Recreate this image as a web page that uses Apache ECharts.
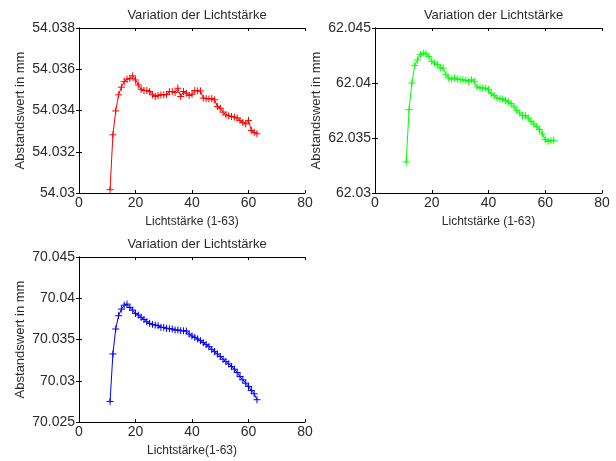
<!DOCTYPE html>
<html>
<head>
<meta charset="utf-8">
<script src="https://cdn.jsdelivr.net/npm/echarts@6/dist/echarts.min.js"></script>
<style>
  html, body { margin: 0; padding: 0; background: #fff; }
  #chart { width: 616px; height: 461px; }
</style>
</head>
<body>
<div id="chart"></div>
<script>
// Lichtstärke steps
const lichtstaerke = [11, 12, 13, 14, 15, 16, 17, 18, 19, 20, 21, 22, 23, 24, 25, 26, 27, 28, 29, 30,
  31, 32, 33, 34, 35, 36, 37, 38, 39, 40, 41, 42, 43, 44, 45, 46, 47, 48, 49, 50,
  51, 52, 53, 54, 55, 56, 57, 58, 59, 60, 61, 62, 63]

const abstandRot = [54.03016, 54.03282, 54.03398, 54.03476, 54.03513, 54.0354, 54.03552, 54.03555, 54.03568, 54.03548,
  54.03524, 54.03503, 54.03497, 54.03497, 54.03492, 54.03476, 54.03468, 54.03473, 54.03476, 54.03476,
  54.03477, 54.03492, 54.03492, 54.03487, 54.03508, 54.03468, 54.03492, 54.03484, 54.03473, 54.03479,
  54.03497, 54.03495, 54.03495, 54.0346, 54.03458, 54.03456, 54.03458, 54.03452, 54.03419, 54.03411,
  54.03392, 54.03379, 54.03374, 54.03371, 54.03368, 54.03363, 54.03352, 54.03342, 54.03335, 54.03352,
  54.03303, 54.03294, 54.03287]

const abstandGruen = [62.03282, 62.03758, 62.04, 62.0416, 62.0421, 62.04258, 62.04273, 62.04264, 62.04242, 62.04197,
  62.04182, 62.04167, 62.04136, 62.04136, 62.04076, 62.04045, 62.04036, 62.04045, 62.04036, 62.0403,
  62.0403, 62.04024, 62.04015, 62.0403, 62.04015, 62.03964, 62.03955, 62.03955, 62.03952, 62.03939,
  62.03903, 62.03885, 62.03864, 62.03858, 62.03855, 62.03842, 62.03827, 62.03812, 62.03782, 62.03752,
  62.03727, 62.03703, 62.03703, 62.03682, 62.03652, 62.03627, 62.03606, 62.03576, 62.03536, 62.03485,
  62.0347, 62.03476, 62.03479]

const abstandBlau = [70.02749, 70.03325, 70.03627, 70.03788, 70.03868, 70.03916, 70.03929, 70.03888, 70.03856, 70.03816,
  70.03796, 70.03768, 70.03743, 70.03715, 70.03695, 70.03683, 70.03675, 70.03667, 70.03647, 70.03647,
  70.03635, 70.03631, 70.03627, 70.03615, 70.03615, 70.03607, 70.03605, 70.03603, 70.03566, 70.03542,
  70.03526, 70.03506, 70.03486, 70.03462, 70.03438, 70.03413, 70.03381, 70.03353, 70.03325, 70.03293,
  70.03261, 70.03232, 70.03204, 70.03172, 70.0314, 70.031, 70.03051, 70.03011, 70.02971, 70.02931,
  70.02882, 70.02842, 70.0277]

// axis ranges: [min, max, interval]
const xRange = [0, 80, 20]
const yRanges = [
  [54.03, 54.038, 0.002],
  [62.03, 62.045, 0.005],
  [70.025, 70.045, 0.005],
]
const titles = ['Variation der Lichtstärke', 'Variation der Lichtstärke', 'Variation der Lichtstärke']
const xNames = ['Lichtstärke (1-63)', 'Lichtstärke (1-63)', 'Lichtstärke(1-63)']
const yName = 'Abstandswert in mm'
const colors = ['#ff0000', '#00ff00', '#0000ff']
const seriesData = [abstandRot, abstandGruen, abstandBlau]

const grids = [
  { left: 79, top: 28, width: 226, height: 165 },
  { left: 375, top: 28, width: 227, height: 165 },
  { left: 79, top: 257, width: 226, height: 165 },
]

const font = 'Arial, "Liberation Sans", sans-serif'
const textColor = '#2a2a2a'
const lineStyle = { color: '#000', width: 1 }

const fmt = (v) => String(parseFloat(v.toFixed(4)))

const xAxes = []
const yAxes = []
grids.forEach((g, i) => {
  const yr = yRanges[i]
  // main axes with labels
  xAxes.push({
    type: 'value', gridIndex: i, min: xRange[0], max: xRange[1], interval: xRange[2],
    name: xNames[i], nameLocation: 'middle', nameGap: 23,
    nameTextStyle: { color: textColor, fontSize: 12, fontFamily: font },
    axisLine: { show: true, lineStyle },
    axisTick: { show: true, inside: true, length: 3, lineStyle },
    axisLabel: { color: textColor, fontSize: 14, fontFamily: font, margin: 3 },
    splitLine: { show: false },
  })
  yAxes.push({
    type: 'value', gridIndex: i, min: yr[0], max: yr[1], interval: yr[2],
    name: yName, nameLocation: 'middle', nameGap: 52,
    nameTextStyle: { color: textColor, fontSize: 13, fontFamily: font },
    axisLine: { show: true, lineStyle },
    axisTick: { show: true, inside: true, length: 3, lineStyle },
    axisLabel: { color: textColor, fontSize: 14, fontFamily: font, margin: 4, formatter: fmt },
    splitLine: { show: false },
  })
  // box on top / right with inner ticks
  xAxes.push({
    type: 'value', gridIndex: i, position: 'top', min: xRange[0], max: xRange[1], interval: xRange[2],
    axisLine: { show: true, lineStyle },
    axisTick: { show: true, inside: true, length: 3, lineStyle },
    axisLabel: { show: false },
    splitLine: { show: false },
  })
  yAxes.push({
    type: 'value', gridIndex: i, position: 'right', min: yr[0], max: yr[1], interval: yr[2],
    axisLine: { show: true, lineStyle },
    axisTick: { show: true, inside: true, length: 3, lineStyle },
    axisLabel: { show: false },
    splitLine: { show: false },
  })
})

const option = {
  backgroundColor: '#fff',
  animation: false,
  title: grids.map((g, i) => ({
    text: titles[i],
    left: g.left + g.width / 2,
    top: g.top - 24,
    textAlign: 'center',
    textStyle: { color: textColor, fontSize: 13, fontWeight: 'normal', fontFamily: font },
  })),
  grid: grids,
  xAxis: xAxes,
  yAxis: yAxes,
  series: seriesData.map((vals, i) => ({
    type: 'line',
    xAxisIndex: i * 2,
    yAxisIndex: i * 2,
    data: lichtstaerke.map((x, j) => [x, vals[j]]),
    symbol: 'path://M0,5L10,5M5,0L5,10',
    symbolSize: 7,
    showSymbol: true,
    lineStyle: { color: colors[i], width: 1 },
    itemStyle: { color: 'none', borderColor: colors[i], borderWidth: 1 },
  })),
}

const chart = echarts.init(document.getElementById('chart'))
chart.setOption(option)
</script>
</body>
</html>
